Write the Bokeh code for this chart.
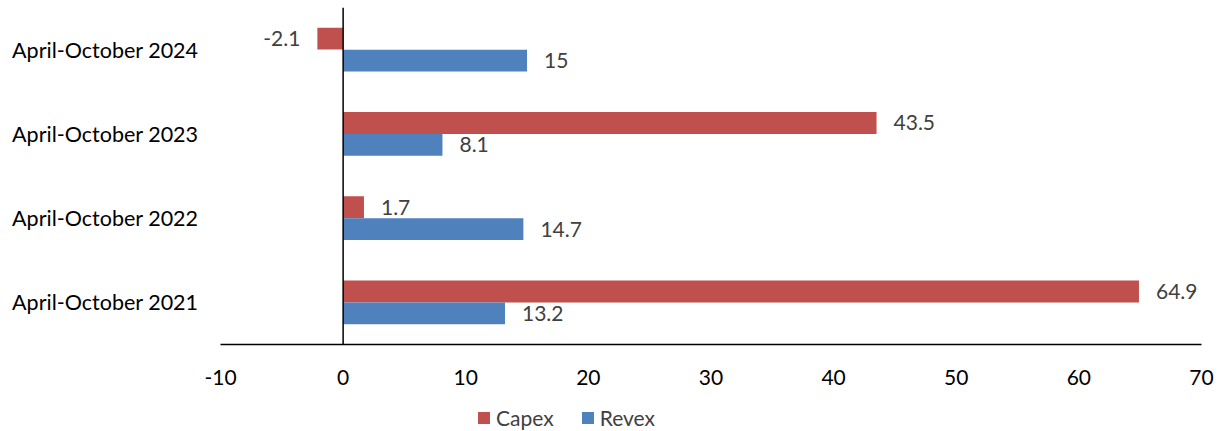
from bokeh.plotting import figure
from bokeh.layouts import column
from bokeh.models import (FactorRange, Range1d, ColumnDataSource, FixedTicker, Span,
                          Legend, LegendItem)
from bokeh.transform import dodge
from bokeh.core.properties import value
from bokeh.embed import file_html
from bokeh.resources import INLINE

categories = ["April-October 2021", "April-October 2022", "April-October 2023", "April-October 2024"]
capex = [64.9, 1.7, 43.5, -2.1]
revex = [13.2, 14.7, 8.1, 15.0]
capex_labels = ["64.9", "1.7", "43.5", "-2.1"]
revex_labels = ["13.2", "14.7", "8.1", "15"]
x_ticks = [-10, 0, 10, 20, 30, 40, 50, 60, 70]
series_names = ["Capex", "Revex"]

FONT = "Lato"
RED = "#C0504D"
BLUE = "#4F81BD"

p = figure(width=1228, height=391, y_range=FactorRange(*categories, range_padding=0),
           x_range=Range1d(-10, 70), output_backend="svg", toolbar_location=None,
           min_border_left=220, min_border_right=27, min_border_top=7, min_border_bottom=47)
p.outline_line_color = None
p.xgrid.grid_line_color = None
p.ygrid.grid_line_color = None

def label_src(vals, labels):
    return ColumnDataSource(dict(
        cat=categories, v=vals, lab=labels,
        align=["left" if v >= 0 else "right" for v in vals],
        xo=[17 if v >= 0 else -17 for v in vals],
    ))

src_c = label_src(capex, capex_labels)
src_r = label_src(revex, revex_labels)

bh = 0.26
p.hbar(y=dodge("cat", bh / 2, range=p.y_range), left=0, right="v", height=bh,
       source=src_c, fill_color=RED, line_color=None)
p.hbar(y=dodge("cat", -bh / 2, range=p.y_range), left=0, right="v", height=bh,
       source=src_r, fill_color=BLUE, line_color=None)

for src, off in ((src_c, bh / 2), (src_r, -bh / 2)):
    p.text(x="v", y=dodge("cat", off, range=p.y_range), text="lab", source=src,
           x_offset="xo", text_align="align", text_baseline="middle",
           text_font=value(FONT), text_font_size="21px", text_color="#404040")

p.add_layout(Span(location=0, dimension="height", line_color="black", line_width=1.5))

xa = p.xaxis[0]
xa.ticker = FixedTicker(ticks=x_ticks)
xa.major_label_overrides = {t: str(t) for t in x_ticks}
xa.axis_line_color = "black"
xa.axis_line_width = 1.5
xa.major_tick_line_color = None
xa.minor_tick_line_color = None
xa.major_label_text_font = FONT
xa.major_label_text_font_size = "21px"
xa.major_label_text_color = "black"
xa.major_label_standoff = 19

ya = p.yaxis[0]
ya.axis_line_color = None
ya.major_tick_line_color = None
ya.minor_tick_line_color = None
ya.major_label_text_font = FONT
ya.major_label_text_font_size = "21.5px"
ya.major_label_text_color = "black"
ya.major_label_standoff = 16

# Legend strip below the chart (its frame is aligned with the chart's frame)
lg = figure(width=1228, height=40, x_range=Range1d(0, 1), y_range=Range1d(0, 1),
            output_backend="svg", toolbar_location=None,
            x_axis_location=None, y_axis_location=None,
            min_border_left=220, min_border_right=27, min_border_top=0, min_border_bottom=0)
lg.outline_line_color = None
lg.xgrid.grid_line_color = None
lg.ygrid.grid_line_color = None
legend_src = ColumnDataSource(dict(y=[0, 0], left=[0, 0], right=[0, 0], name=series_names))
lr_c = lg.hbar(y="y", left="left", right="right", height=0, source=legend_src,
               fill_color=RED, line_color=None)
lr_r = lg.hbar(y="y", left="left", right="right", height=0, source=legend_src,
               fill_color=BLUE, line_color=None)
legend = Legend(items=[LegendItem(label=series_names[0], renderers=[lr_c], index=0),
                       LegendItem(label=series_names[1], renderers=[lr_r], index=1)],
                orientation="horizontal", location=(256, 1),
                label_text_font=FONT, label_text_font_size="21px", label_text_color="#404040",
                glyph_width=15, glyph_height=15, spacing=26, label_standoff=5,
                border_line_color=None, background_fill_alpha=0, padding=0, margin=0)
lg.add_layout(legend, "center")

layout = column(p, lg, spacing=0)
open("out.html", "w").write(file_html(layout, INLINE))
